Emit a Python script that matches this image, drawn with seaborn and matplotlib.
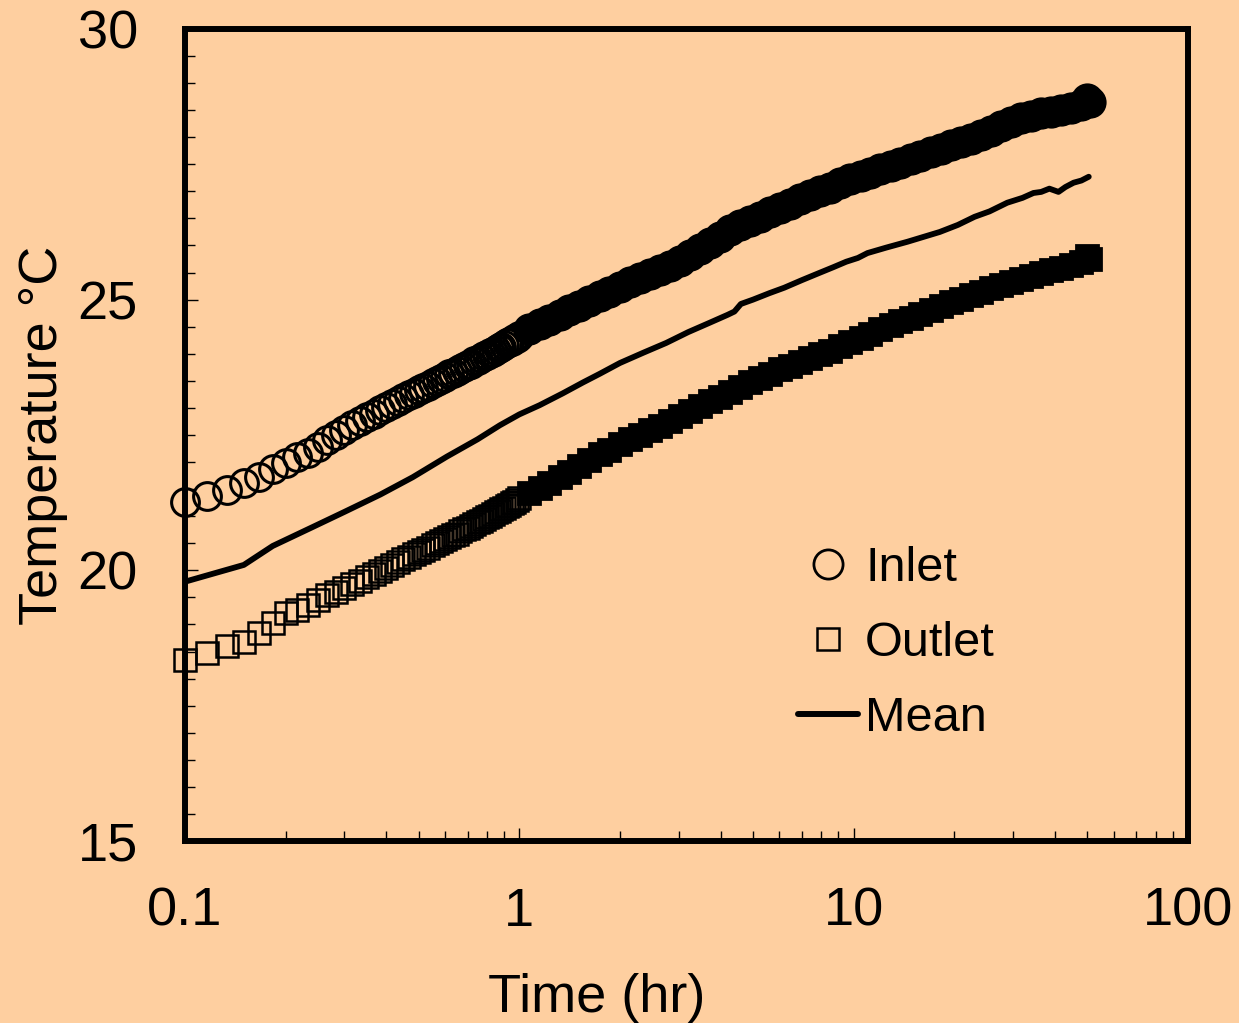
import numpy as np
import matplotlib
matplotlib.use("Agg")
import matplotlib.pyplot as plt
import seaborn as sns
from matplotlib.lines import Line2D
from matplotlib.ticker import FixedLocator, NullFormatter, MultipleLocator

# ---------------- data ----------------
# sample times (minutes) for the first hour, one sample per minute
minutes_early = [6, 7, 8, 9, 10, 11, 12, 13, 14, 15, 16, 17, 18, 19, 20,
                 21, 22, 23, 24, 25, 26, 27, 28, 29, 30, 31, 32, 33, 34, 35,
                 36, 37, 38, 39, 40, 41, 42, 43, 44, 45, 46, 47, 48, 49, 50,
                 51, 52, 53, 54, 55, 56, 57, 58, 59, 60]
# later sample times (hours)
hours_late = [1.07, 1.15, 1.23, 1.32, 1.41, 1.51, 1.62, 1.74, 1.86, 2.0,
              2.14, 2.29, 2.46, 2.63, 2.82, 3.02, 3.24, 3.47, 3.72, 3.98,
              4.27, 4.57, 4.9, 5.25, 5.62, 6.03, 6.46, 6.92, 7.41, 7.94,
              8.51, 9.12, 9.77, 10.5, 11.2, 12.0, 12.9, 13.8, 14.8, 15.8,
              17.0, 18.2, 19.5, 20.9, 22.4, 24.0, 25.7, 27.5, 29.5, 31.6,
              33.9, 36.3, 38.9, 41.7, 44.7, 47.9, 50.0, 51.0]

inlet_early = [21.26, 21.37, 21.48, 21.61, 21.72, 21.87, 21.98, 22.09, 22.17, 22.28,
               22.41, 22.50, 22.59, 22.69, 22.76, 22.83, 22.89, 22.96, 23.01, 23.07,
               23.13, 23.18, 23.23, 23.28, 23.33, 23.37, 23.41, 23.46, 23.50, 23.54,
               23.58, 23.62, 23.65, 23.69, 23.72, 23.76, 23.79, 23.82, 23.86, 23.89,
               23.92, 23.95, 23.98, 24.01, 24.04, 24.07, 24.10, 24.13, 24.16, 24.19,
               24.21, 24.24, 24.27, 24.30, 24.33]
inlet_late = [24.45, 24.55, 24.63, 24.72, 24.80, 24.89, 24.98, 25.07, 25.15, 25.24,
              25.32, 25.40, 25.48, 25.55, 25.63, 25.72, 25.82, 25.93, 26.04, 26.15,
              26.28, 26.37, 26.45, 26.53, 26.61, 26.69, 26.77, 26.85, 26.93, 27.00,
              27.07, 27.15, 27.22, 27.28, 27.34, 27.41, 27.47, 27.53, 27.60, 27.66,
              27.72, 27.78, 27.85, 27.91, 27.97, 28.04, 28.12, 28.20, 28.28, 28.35,
              28.40, 28.44, 28.47, 28.50, 28.54, 28.59, 28.70, 28.65]

outlet_early = [18.34, 18.47, 18.60, 18.68, 18.84, 19.03, 19.21, 19.27, 19.36, 19.45,
                19.54, 19.60, 19.67, 19.74, 19.81, 19.88, 19.94, 19.99, 20.05, 20.10,
                20.15, 20.20, 20.25, 20.30, 20.34, 20.38, 20.42, 20.46, 20.50, 20.54,
                20.58, 20.61, 20.65, 20.68, 20.72, 20.76, 20.79, 20.82, 20.86, 20.89,
                20.92, 20.95, 20.98, 21.01, 21.04, 21.07, 21.10, 21.13, 21.16, 21.19,
                21.21, 21.24, 21.27, 21.30, 21.33]
outlet_late = [21.42, 21.52, 21.62, 21.72, 21.82, 21.92, 22.03, 22.14, 22.23, 22.33,
               22.42, 22.50, 22.59, 22.67, 22.76, 22.85, 22.94, 23.03, 23.12, 23.21,
               23.30, 23.39, 23.47, 23.55, 23.63, 23.71, 23.78, 23.85, 23.92, 23.99,
               24.06, 24.14, 24.22, 24.30, 24.37, 24.45, 24.53, 24.60, 24.67, 24.74,
               24.81, 24.88, 24.95, 25.02, 25.09, 25.15, 25.21, 25.27, 25.33, 25.38,
               25.44, 25.49, 25.54, 25.59, 25.64, 25.69, 25.80, 25.75]

mean_time = [0.1, 0.15, 0.183, 0.241, 0.30, 0.384, 0.48, 0.607, 0.75, 0.875,
             1.0, 1.15, 1.35, 1.55, 1.74, 2.0, 2.35, 2.75, 3.2, 3.7,
             4.2, 4.4, 4.6, 5.0, 5.6, 6.2, 7.0, 7.8, 8.7, 9.5,
             10.3, 11.0, 12.5, 14.5, 16.2, 18.1, 20.5, 23.0, 25.5, 28.8,
             32.0, 34.5, 36.4, 38.5, 41.0, 43.0, 45.5, 48.0, 50.5]
mean_temp = [19.79, 20.10, 20.45, 20.80, 21.08, 21.40, 21.72, 22.10, 22.42, 22.68,
             22.88, 23.05, 23.27, 23.47, 23.63, 23.83, 24.02, 24.20, 24.40, 24.57,
             24.72, 24.78, 24.92, 25.00, 25.12, 25.22, 25.36, 25.48, 25.60, 25.70,
             25.77, 25.86, 25.96, 26.07, 26.16, 26.25, 26.38, 26.53, 26.63, 26.79,
             26.88, 26.97, 26.99, 27.05, 26.99, 27.08, 27.16, 27.20, 27.27]

legend_labels = ["Inlet", "Outlet", "Mean"]
x_tick_values = [0.1, 1, 10, 100]
x_tick_labels = ["0.1", "1", "10", "100"]
y_tick_values = [15, 20, 25, 30]

# ---------------- figure ----------------
BG = "#FECFA0"
sns.set_theme(style="white")
plt.rcParams["font.family"] = ["Liberation Sans", "DejaVu Sans"]
plt.rcParams["text.color"] = "black"
plt.rcParams["axes.labelcolor"] = "black"

t_early = np.array(minutes_early) / 60.0
t_late = np.array(hours_late)

fig = plt.figure(figsize=(12.39, 10.23), dpi=100, facecolor=BG)
ax = fig.add_axes([0.1493, 0.1779, 0.8095, 0.7938])
ax.set_facecolor(BG)

common = dict(ax=ax, estimator=None, sort=False, linestyle="none",
              markeredgecolor="black", clip_on=False, legend=False)
# first hour: one hollow marker per minute
sns.lineplot(x=t_early, y=inlet_early, marker="o", markersize=20,
             markerfacecolor="none", markeredgewidth=2.2, **common)
sns.lineplot(x=t_early, y=outlet_early, marker="s", markersize=16,
             markerfacecolor="none", markeredgewidth=1.8, **common)
# later: markers overlap into a solid band
sns.lineplot(x=t_late, y=inlet_late, marker="o", markersize=21,
             markerfacecolor="black", markeredgewidth=2.2, **common)
sns.lineplot(x=t_late, y=outlet_late, marker="s", markersize=16,
             markerfacecolor="black", markeredgewidth=2.0, **common)
sns.lineplot(x=mean_time, y=mean_temp, ax=ax, estimator=None, sort=False,
             color="black", linewidth=4.2, legend=False,
             solid_capstyle="round", solid_joinstyle="round")

ax.set_xscale("log")
ax.set_xlim(0.1, 100)
ax.set_ylim(15, 30)
ax.xaxis.set_major_locator(FixedLocator(x_tick_values))
ax.set_xticklabels(x_tick_labels)
ax.xaxis.set_minor_locator(FixedLocator(
    [m * d for d in (0.1, 1, 10) for m in range(2, 10)]))
ax.xaxis.set_minor_formatter(NullFormatter())
ax.yaxis.set_major_locator(FixedLocator(y_tick_values))
ax.yaxis.set_minor_locator(MultipleLocator(0.5))

ax.tick_params(which="both", direction="in", bottom=True, left=True,
               top=False, right=False, colors="black", width=1.0)
ax.tick_params(which="major", length=9.5)
ax.tick_params(which="minor", length=7)
ax.tick_params(axis="x", which="major", labelsize=39, pad=33)
ax.tick_params(axis="y", which="major", labelsize=39, pad=34)

for s in ax.spines.values():
    s.set_visible(True)
    s.set_linewidth(4.3)
    s.set_color("black")

ax.set_xlabel("Time (hr)", fontsize=39, color="black")
ax.xaxis.set_label_coords(0.41, -0.163)
ax.set_ylabel("Temperature \u00b0C", fontsize=39, labelpad=7, color="black")
ax.grid(False)

handles = [
    Line2D([], [], linestyle="none", marker="o", markersize=21,
           markerfacecolor="none", markeredgecolor="black", markeredgewidth=2),
    Line2D([], [], linestyle="none", marker="s", markersize=16,
           markerfacecolor="none", markeredgecolor="black", markeredgewidth=1.8),
    Line2D([], [], color="black", linewidth=4.3, solid_capstyle="round"),
]
ax.legend(handles, legend_labels, loc="upper left",
          bbox_to_anchor=(798 / 1239, 1 - 546 / 1023),
          bbox_transform=fig.transFigure, frameon=False, fontsize=35,
          handlelength=1.23, handletextpad=0.15, labelspacing=0.62,
          borderpad=0, borderaxespad=0, labelcolor="black")

fig.savefig("out.png", dpi=100, facecolor=BG)
